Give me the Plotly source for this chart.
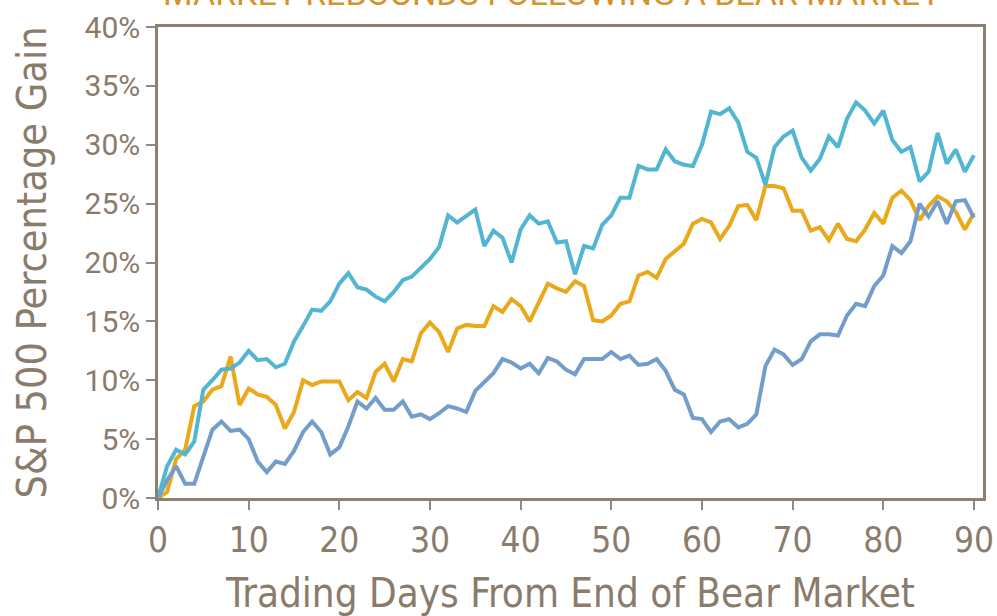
import plotly.graph_objects as go

days = list(range(0, 91))

cyan_vals = [0, 2.7, 4.1, 3.7, 4.8, 9.2, 10.0, 10.9, 11.0, 11.5,
             12.5, 11.7, 11.8, 11.1, 11.4, 13.3, 14.6, 16.0, 15.9, 16.7,
             18.2, 19.1, 17.9, 17.7, 17.1, 16.7, 17.5, 18.5, 18.8, 19.5,
             20.3, 21.3, 24.0, 23.4, 24.0, 24.5, 21.4, 22.7, 22.1, 20.0,
             22.8, 24.0, 23.3, 23.5, 21.7, 21.8, 19.0, 21.4, 21.2, 23.2,
             24.0, 25.5, 25.5, 28.2, 27.9, 27.9, 29.6, 28.6, 28.3, 28.2,
             30.0, 32.8, 32.6, 33.1, 31.9, 29.4, 28.9, 26.6, 29.8, 30.7,
             31.2, 28.9, 27.8, 28.8, 30.7, 29.8, 32.2, 33.6, 32.9, 31.8,
             32.9, 30.4, 29.4, 29.8, 26.9, 27.7, 31.0, 28.4, 29.6, 27.7,
             29.1]

orange_vals = [0, 0.5, 3.3, 4.1, 7.8, 8.2, 9.2, 9.5, 12.0, 7.9,
               9.3, 8.8, 8.6, 7.9, 5.9, 7.3, 10.0, 9.6, 9.9, 9.9,
               9.9, 8.3, 9.0, 8.5, 10.7, 11.4, 9.9, 11.8, 11.6, 14.0,
               14.9, 14.1, 12.4, 14.4, 14.7, 14.6, 14.6, 16.3, 15.8, 16.9,
               16.3, 15.0, 16.6, 18.2, 17.8, 17.5, 18.4, 18.0, 15.1, 15.0,
               15.5, 16.5, 16.7, 18.9, 19.2, 18.7, 20.3, 20.9, 21.6, 23.3,
               23.7, 23.4, 22.0, 23.1, 24.8, 24.9, 23.6, 26.5, 26.5, 26.3,
               24.4, 24.4, 22.7, 23.0, 21.9, 23.3, 22.0, 21.8, 22.8, 24.2,
               23.3, 25.5, 26.1, 25.3, 23.6, 24.8, 25.6, 25.2, 24.3, 22.8,
               24.2]

steel_vals = [0, 1.5, 2.7, 1.2, 1.2, 3.5, 5.8, 6.5, 5.7, 5.8,
              5.0, 3.1, 2.2, 3.1, 2.9, 4.0, 5.6, 6.5, 5.6, 3.7,
              4.3, 6.1, 8.2, 7.6, 8.5, 7.5, 7.5, 8.2, 6.9, 7.1,
              6.7, 7.2, 7.8, 7.6, 7.3, 9.1, 9.9, 10.6, 11.8, 11.5,
              11.0, 11.4, 10.6, 11.9, 11.6, 10.9, 10.5, 11.8, 11.8, 11.8,
              12.4, 11.8, 12.1, 11.3, 11.4, 11.8, 10.8, 9.2, 8.8, 6.8,
              6.7, 5.6, 6.5, 6.7, 6.0, 6.3, 7.1, 11.2, 12.6, 12.2,
              11.3, 11.8, 13.3, 13.9, 13.9, 13.8, 15.5, 16.5, 16.3, 18.0,
              18.9, 21.4, 20.8, 21.8, 25.0, 23.9, 25.2, 23.3, 25.2, 25.3,
              23.8]

x_ticks = [0, 10, 20, 30, 40, 50, 60, 70, 80, 90]
y_ticks = [0, 5, 10, 15, 20, 25, 30, 35, 40]
y_tick_text = [f"{v}%" for v in y_ticks]

title_text = "MARKET REBOUNDS FOLLOWING A BEAR MARKET"
x_title = "Trading Days From End of Bear Market"
y_title = "S&P 500 Percentage Gain"

TXT = "#8B7B6B"
AXC = "#8E8070"
COND = "Liberation Sans Narrow, DejaVu Sans Condensed, Roboto Condensed, Roboto, sans-serif"

fig = go.Figure()
fig.add_trace(go.Scatter(x=days, y=orange_vals, mode="lines",
                         line=dict(color="#EAA91A", width=4), showlegend=False))
fig.add_trace(go.Scatter(x=days, y=steel_vals, mode="lines",
                         line=dict(color="#739ECB", width=4), showlegend=False))
fig.add_trace(go.Scatter(x=days, y=cyan_vals, mode="lines",
                         line=dict(color="#52B6D3", width=4), showlegend=False))

fig.update_layout(
    width=997, height=616,
    margin=dict(l=158, r=14, t=27, b=118),
    paper_bgcolor="white", plot_bgcolor="white",
    xaxis=dict(range=[0, 91], tickvals=x_ticks, ticks="outside", ticklen=9,
               tickwidth=2, tickcolor="#8C8A88", showgrid=False, zeroline=False,
               showline=True, linecolor=AXC, linewidth=2.5, mirror=True,
               automargin=False,
               tickfont=dict(family=COND, size=35, color=TXT),
               title=dict(text=x_title, font=dict(family=COND, size=40, color=TXT),
                          standoff=22)),
    yaxis=dict(range=[0, 40], tickvals=y_ticks, ticktext=y_tick_text,
               ticks="outside", ticklen=9, tickwidth=2, tickcolor="#8C8A88",
               showgrid=False, zeroline=False, showline=True, linecolor=AXC,
               linewidth=2.5, mirror=True, automargin=False,
               tickfont=dict(family="Roboto, sans-serif", size=30, color=TXT),
               title=dict(text=y_title, font=dict(family=COND, size=41, color=TXT),
                          standoff=26)),
    annotations=[dict(text=title_text, xref="paper", yref="paper", x=0.478, y=1,
                      xanchor="center", yanchor="bottom", yshift=12, showarrow=False,
                      font=dict(family="Roboto, sans-serif", size=34, color="#D8922B"))],
)

fig.write_html("out.html", config={"displayModeBar": False},
               post_script="document.body.style.margin='0';document.body.style.overflow='hidden';")
